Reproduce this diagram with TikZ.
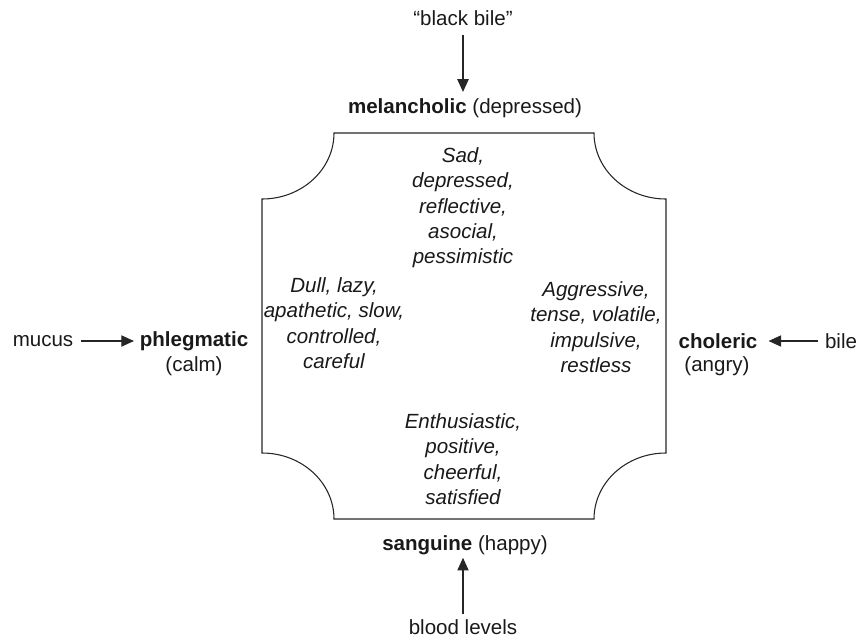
\documentclass[tikz,border=0pt]{standalone}
\usepackage{fontspec}
\setmainfont{Liberation Sans}
\usetikzlibrary{positioning,arrows.meta}
\tikzstyle{tips}=[%
	 btip/.tip = {Triangle[length=9.5pt, width=8.5pt]},
	 -btip]

\begin{document}
\begin{tikzpicture}[x=0.75pt, y=-0.75pt, line width=0.8pt, draw=black!85, text=black!90]
	\def\myshift{5pt}
	\tikzstyle{mot}=[inner sep=2pt, font=\fontsize{15.4}{19}\selectfont]
	\tikzstyle{trait}=[inner sep=2pt, align=center, font=\fontsize{15.4}{19}\selectfont\itshape]
	\useasboundingbox (0,0) rectangle (861,640);
	% the box with hollow corners
	\draw (334,133) -- (594,133)
		arc[start angle=180, end angle=90, x radius=72, y radius=66] -- (666,453)
		arc[start angle=270, end angle=180, x radius=72, y radius=66] -- (334,519)
		arc[start angle=0, end angle=-90, x radius=72, y radius=66] -- (262,199)
		arc[start angle=90, end angle=0, x radius=72, y radius=66] -- cycle;
	% temperaments
	\node[mot] (melan) at (465,108) {\textbf{melancholic} (depressed)};
	\node[mot] (sang) at (465,545) {\textbf{sanguine} (happy)};
	\node[mot] (phleg) at (194,341) {\textbf{phlegmatic}};
	\node[mot] (calm) at (194,366) {(calm)};
	\node[mot] (chol) at (718,341) {\textbf{choleric}};
	\node[mot] (angry) at (717,366) {(angry)};
	% humours
	\node[mot] (blackbile) at (463,18) {``black bile''};
	\node[mot] (blood) at (463,627) {blood levels};
	\node[mot] (mucus) at (43,341) {mucus};
	\node[mot] (bile) at (841,341) {bile};
	% traits
	\node[trait] (sad) at (463,208) {Sad,\\depressed,\\reflective,\\asocial,\\pessimistic};
	\node[trait] (dull) at (334,323) {Dull, lazy,\\apathetic, slow,\\controlled,\\careful};
	\node[trait] (aggr) at (596,327) {Aggressive,\\tense, volatile,\\impulsive,\\restless};
	\node[trait] (enth) at (463,459) {Enthusiastic,\\positive,\\cheerful,\\satisfied};
	% arrows
	\draw[tips, shorten <=\myshift, shorten >=2.5pt] (blackbile) -- (blackbile |- melan.north);
	\draw[tips, shorten <=2pt] (blood) -- (blood |- sang.south);
	\draw[tips, shorten <=3.5pt, shorten >=2pt] (mucus) -- (phleg);
	\draw[tips, shorten <=3pt, shorten >=6pt] (bile) -- (chol);
\end{tikzpicture}
\end{document}
